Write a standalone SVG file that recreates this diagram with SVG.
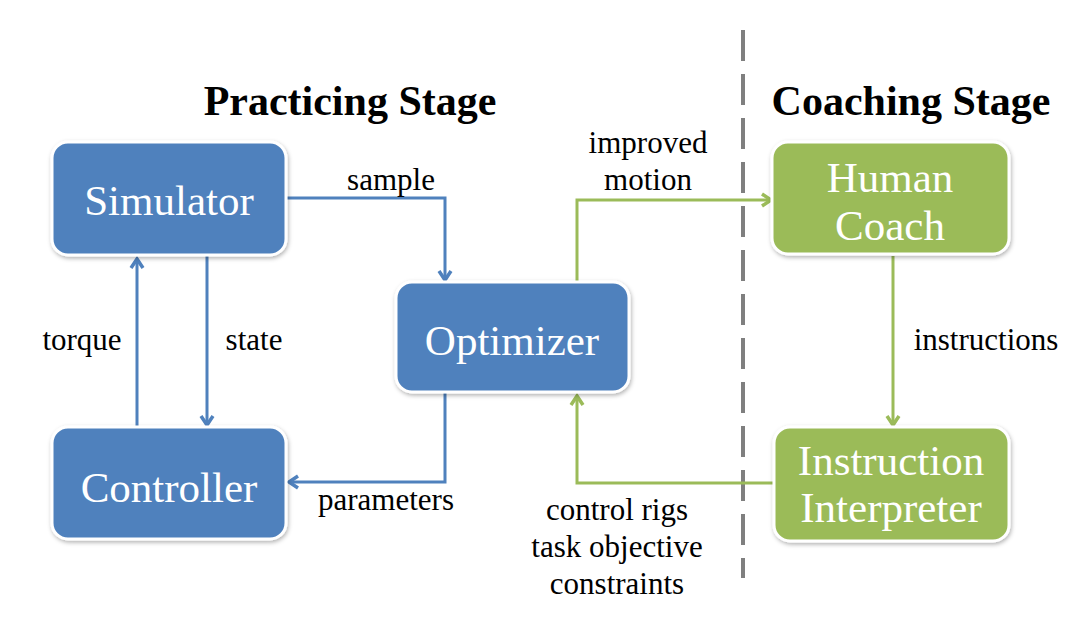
<svg xmlns="http://www.w3.org/2000/svg" width="1088" height="624" viewBox="0 0 1088 624">
<style>
.box{stroke:#ffffff;stroke-width:3}
.blue{fill:#4f81bd}
.green{fill:#9bbb59}
.nt{font-family:"Liberation Serif","Times New Roman",serif;font-size:43px;fill:#ffffff;text-anchor:middle}
.lbl{font-family:"Liberation Serif","Times New Roman",serif;font-size:31px;fill:#000000;text-anchor:middle}
.ttl{font-family:"Liberation Serif","Times New Roman",serif;font-size:42px;font-weight:bold;fill:#000000;text-anchor:middle}
.cb{fill:none;stroke:#4f81bd;stroke-width:3}
.cg{fill:none;stroke:#9bbb59;stroke-width:3}
</style>
<defs>
<filter id="sh" x="-10%" y="-10%" width="125%" height="130%">
<feDropShadow dx="1" dy="2" stdDeviation="2" flood-color="#000000" flood-opacity="0.3"/>
</filter>
<marker id="ab" markerUnits="userSpaceOnUse" markerWidth="16" markerHeight="16" viewBox="-12 -8 16 16" refX="0" refY="0" orient="auto">
<path d="M-9,-6 L0,0 L-9,6" fill="none" stroke="#4f81bd" stroke-width="3.5"/>
</marker>
<marker id="ag" markerUnits="userSpaceOnUse" markerWidth="16" markerHeight="16" viewBox="-12 -8 16 16" refX="0" refY="0" orient="auto">
<path d="M-9,-6 L0,0 L-9,6" fill="none" stroke="#9bbb59" stroke-width="3.5"/>
</marker>
</defs>
<rect width="1088" height="624" fill="#ffffff"/>

<g id="titles">
<text class="ttl" x="350" y="115">Practicing Stage</text>
<text class="ttl" x="911" y="115">Coaching Stage</text>
</g>

<g id="divider">
<line x1="743" y1="30" x2="743" y2="578" stroke="#7f7f7f" stroke-width="4" stroke-dasharray="31 13"/>
</g>

<g id="connectors">
<polyline class="cb" points="287,198 445,198 445,280" marker-end="url(#ab)"/>
<line class="cb" x1="137" y1="428" x2="137" y2="259" marker-end="url(#ab)"/>
<line class="cb" x1="207" y1="256" x2="207" y2="425" marker-end="url(#ab)"/>
<polyline class="cb" points="445,393 445,482 289,482" marker-end="url(#ab)"/>
<polyline class="cg" points="577,281 577,200 771,200" marker-end="url(#ag)"/>
<line class="cg" x1="893" y1="256" x2="893" y2="425" marker-end="url(#ag)"/>
<polyline class="cg" points="774,483 577,483 577,396" marker-end="url(#ag)"/>
</g>

<g id="labels">
<text class="lbl" x="391" y="190">sample</text>
<text class="lbl" x="648" y="153">improved</text>
<text class="lbl" x="648" y="190">motion</text>
<text class="lbl" x="82" y="350">torque</text>
<text class="lbl" x="254" y="350">state</text>
<text class="lbl" x="386" y="510">parameters</text>
<text class="lbl" x="986" y="350">instructions</text>
<text class="lbl" x="617" y="520">control rigs</text>
<text class="lbl" x="617" y="557">task objective</text>
<text class="lbl" x="617" y="594">constraints</text>
</g>

<g id="simulator">
<rect class="box blue" x="52" y="142" width="234" height="113" rx="16" filter="url(#sh)"/>
<text class="nt" x="169" y="215">Simulator</text>
</g>

<g id="optimizer">
<rect class="box blue" x="396" y="282" width="233" height="110" rx="16" filter="url(#sh)"/>
<text class="nt" x="512" y="355">Optimizer</text>
</g>

<g id="controller">
<rect class="box blue" x="52" y="427" width="234" height="112" rx="16" filter="url(#sh)"/>
<text class="nt" x="169" y="502">Controller</text>
</g>

<g id="human-coach">
<rect class="box green" x="772" y="142" width="237" height="112" rx="16" filter="url(#sh)"/>
<text class="nt" x="890" y="192">Human</text>
<text class="nt" x="890" y="240">Coach</text>
</g>

<g id="instruction-interpreter">
<rect class="box green" x="774" y="427" width="235" height="114" rx="16" filter="url(#sh)"/>
<text class="nt" x="891" y="475">Instruction</text>
<text class="nt" x="891" y="522">Interpreter</text>
</g>
</svg>
